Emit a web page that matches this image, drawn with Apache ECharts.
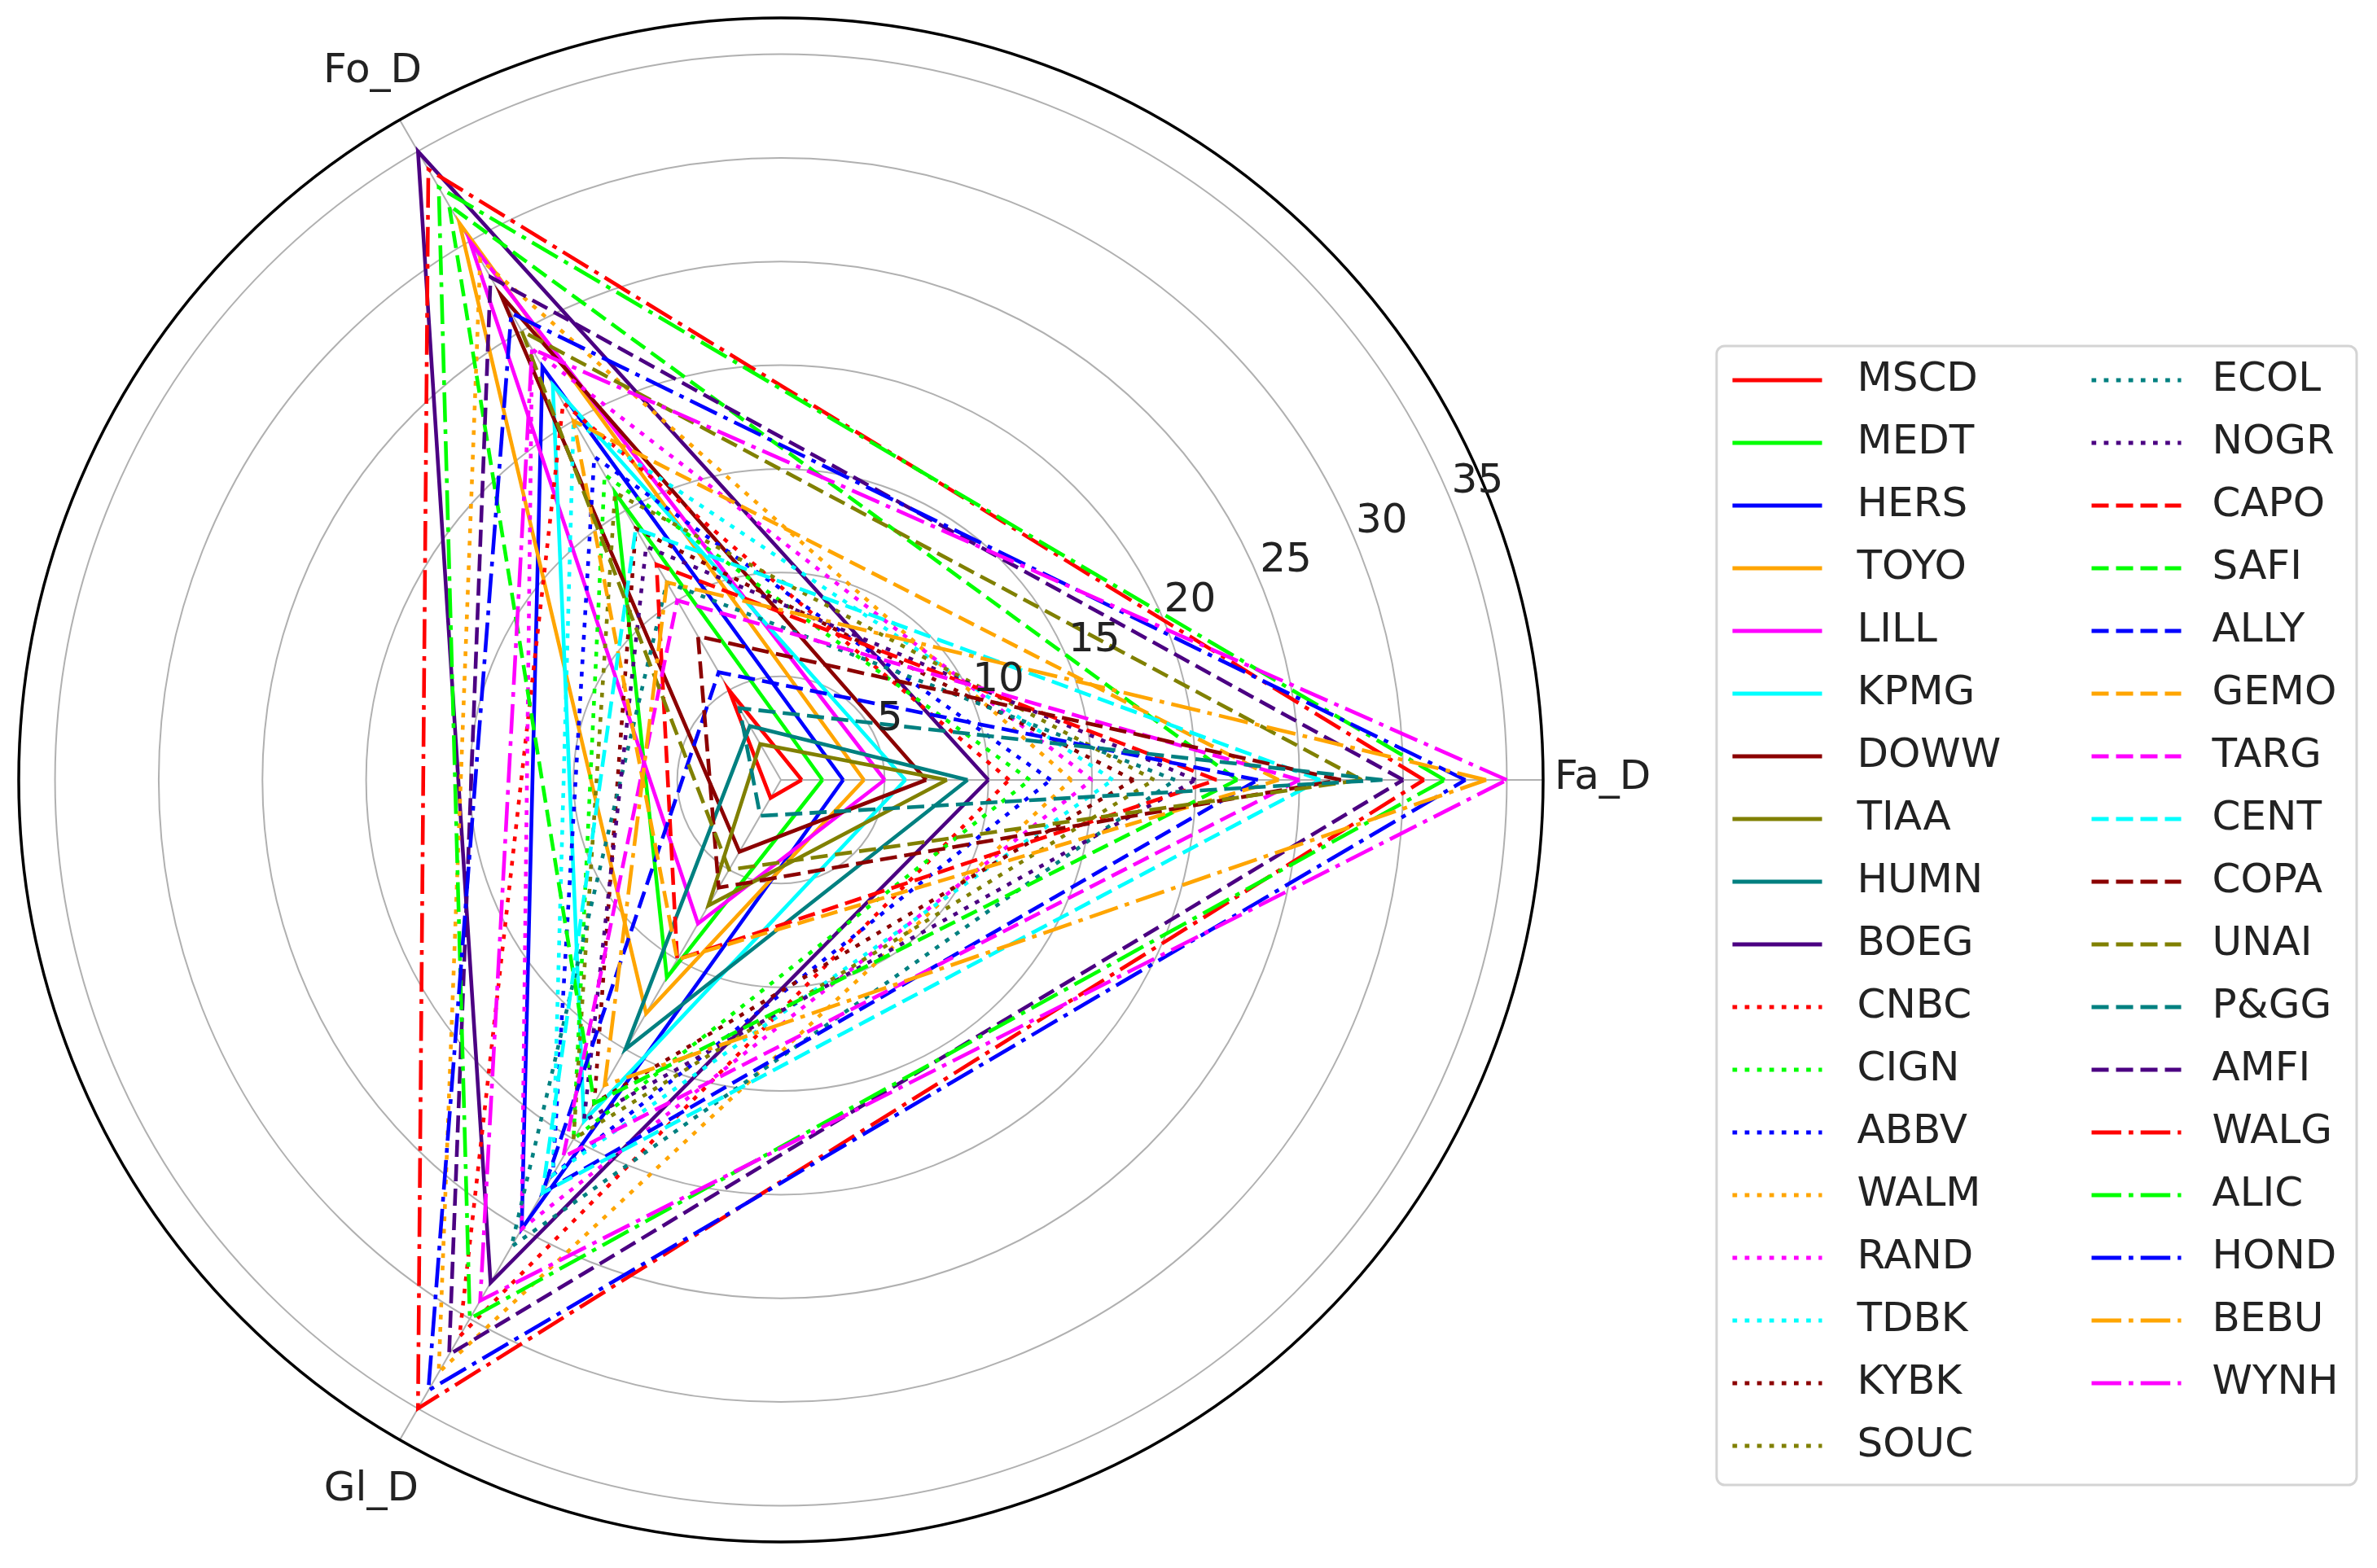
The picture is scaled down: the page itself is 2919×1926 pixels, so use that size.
<!DOCTYPE html>
<html>
<head>
<meta charset="utf-8">
<script src="https://cdn.jsdelivr.net/npm/echarts@6/dist/echarts.min.js"></script>
<style>
html,body{margin:0;padding:0;background:#ffffff;}
#chart{width:2919px;height:1926px;}
</style>
</head>
<body>
<div id="chart"></div>
<script>
// ---------------- data ----------------
const categories = ['Fa_D', 'Fo_D', 'Gl_D'];
const names = ['MSCD','MEDT','HERS','TOYO','LILL','KPMG','DOWW','TIAA','HUMN','BOEG',
               'CNBC','CIGN','ABBV','WALM','RAND','TDBK','KYBK','SOUC','ECOL','NOGR',
               'CAPO','SAFI','ALLY','GEMO','TARG','CENT','COPA','UNAI','P&GG','AMFI',
               'WALG','ALIC','HOND','BEBU','WYNH'];
const faD = [1,2,3,4,5,6,7,8,9,10,11,12,13,14,15,16,17,18,19,20,21,22,23,24,25,26,27,28,29,30,31,32,33,34,35];
const foD = [5,16,23,31,30,22,27,2,3,35,21,17,18,29,24,20,14,16,11,13,12,32,6,20,10,14,8,25,4,28,34,33,26,11,24];
const glD = [1,11,25,13,8,19,4,7,15,28,31,20,22,33,25,22,18,20,26,19,10,18,23,10,21,23,6,5,2,32,35,30,34,17,29];
const radialTicks = [5, 10, 15, 20, 25, 30, 35];
const radialMax = 36.75;

// ---------------- styles ----------------
const palette = ['#ff0000','#00ff00','#0000ff','#ffa500','#ff00ff','#00ffff','#8b0000','#808000','#008080','#4b0082'];
const dashStyles = ['solid', [5.7, 9.4], [21, 9], [36.5, 9, 5.7, 9]];
const FONT = 'DejaVu Sans';
const TXT = '#222222';

const CX = 959, CY = 958, R = 936;

const series = names.map(function (name, i) {
  const vals = [faD[i], foD[i], glD[i]];
  const pts = vals.map(function (v, k) { return [v, k * 120]; });
  pts.push([vals[0], 360]);
  return {
    name: name,
    type: 'line',
    coordinateSystem: 'polar',
    polarIndex: 0,
    data: pts,
    symbol: 'none',
    silent: true,
    animation: false,
    z: 2,
    lineStyle: {
      color: palette[i % 10],
      width: 4.6,
      type: dashStyles[Math.floor(i / 10)],
      cap: 'butt',
      join: 'miter'
    },
    itemStyle: { color: palette[i % 10] }
  };
});

function makeLegend(list, left, padLeft) {
  return {
    data: list,
    orient: 'vertical',
    left: left,
    top: 442,
    padding: 0,
    itemWidth: 110,
    itemHeight: 20,
    itemGap: 27,
    selectedMode: false,
    itemStyle: { opacity: 0 },
    lineStyle: { width: 5 },
    textStyle: { fontFamily: FONT, fontSize: 50, color: TXT, lineHeight: 50, padding: [0, 0, 0, padLeft] }
  };
}

const option = {
  backgroundColor: '#ffffff',
  animation: false,
  polar: [
    { center: [CX, CY], radius: R },
    { center: [CX, CY], radius: R }
  ],
  angleAxis: [
    {
      polarIndex: 0,
      type: 'value',
      min: 0, max: 360, interval: 120,
      startAngle: 0,
      clockwise: false,
      z: 1,
      axisLine: { show: false },
      axisTick: { show: false },
      splitLine: { show: true, lineStyle: { color: '#b0b0b0', width: 2 } },
      axisLabel: {
        show: true,
        margin: 14,
        fontFamily: FONT,
        fontSize: 50,
        color: TXT,
        formatter: function (v) {
          if (v >= 360) return '';
          const k = Math.round(v / 120) % 3;
          return '{' + ['a', 'b', 'c'][k] + '|' + categories[k] + '}';
        },
        rich: {
          a: { fontFamily: FONT, fontSize: 50, color: TXT, padding: [0, 0, 4, 0] },
          b: { fontFamily: FONT, fontSize: 50, color: TXT, padding: [0, -34, 22, 0] },
          c: { fontFamily: FONT, fontSize: 50, color: TXT, padding: [24, -30, 0, 0] }
        }
      }
    },
    {
      polarIndex: 1,
      type: 'value',
      min: 0, max: 360,
      startAngle: 22.5,
      clockwise: false,
      z: 10,
      axisLine: { show: true, lineStyle: { color: '#000000', width: 3.5 } },
      axisTick: { show: false },
      splitLine: { show: false },
      axisLabel: { show: false }
    }
  ],
  radiusAxis: [
    {
      polarIndex: 0,
      type: 'value',
      min: 0, max: radialMax,
      interval: radialTicks[1] - radialTicks[0],
      z: 1,
      axisLine: { show: false },
      axisTick: { show: false },
      axisLabel: { show: false },
      splitLine: { show: true, lineStyle: { color: '#b0b0b0', width: 2 } }
    },
    {
      polarIndex: 1,
      type: 'value',
      min: 0, max: radialMax,
      interval: radialTicks[1] - radialTicks[0],
      z: 10,
      axisLine: { show: false },
      axisTick: { show: false },
      splitLine: { show: false },
      axisLabel: {
        show: true,
        margin: 0,
        align: 'left',
        verticalAlign: 'bottom',
        fontFamily: FONT,
        fontSize: 50,
        color: TXT,
        showMinLabel: false,
        showMaxLabel: false,
        formatter: function (v) { return radialTicks.indexOf(v) >= 0 ? String(v) : ''; }
      }
    }
  ],
  legend: [
    makeLegend(names.slice(0, 18), 2125, 38),
    makeLegend(names.slice(18), 2566, 33)
  ],
  graphic: [{
    type: 'rect',
    z: 0,
    silent: true,
    shape: { x: 2108, y: 425, width: 786, height: 1399, r: 10 },
    style: { fill: 'rgba(255,255,255,0.8)', stroke: '#d4d4d4', lineWidth: 3 }
  }],
  series: series
};

const chart = echarts.init(document.getElementById('chart'), null, { renderer: 'canvas' });
chart.setOption(option);
</script>
</body>
</html>
